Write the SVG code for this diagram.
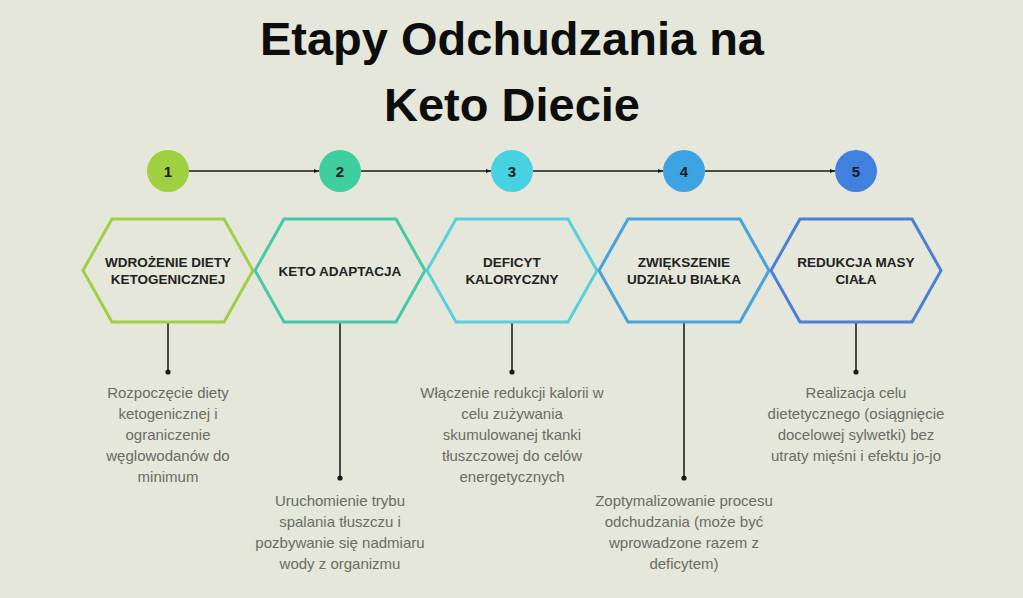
<svg xmlns="http://www.w3.org/2000/svg" width="1023" height="598" viewBox="0 0 1023 598">
<defs>
<marker id="arr" viewBox="0 0 10 10" refX="10" refY="5" markerWidth="5" markerHeight="5" orient="auto" markerUnits="userSpaceOnUse">
<path d="M0,1 L10,5 L0,9 Z" fill="#1a1a1a"/>
</marker>
<style>
.title{font-family:"Liberation Sans",Arial,sans-serif;font-weight:bold;font-size:47px;fill:#0d0d0d;text-anchor:middle}
.num{font-family:"Liberation Sans",Arial,sans-serif;font-weight:bold;font-size:15px;fill:#1a1a1a;text-anchor:middle}
.hex{fill:none;stroke-width:3;stroke-linejoin:miter}
.lbl{font-family:"Liberation Sans",Arial,sans-serif;font-weight:bold;font-size:13.5px;fill:#222;text-anchor:middle}
.desc{font-family:"Liberation Sans",Arial,sans-serif;font-size:15px;fill:#6a6d66;text-anchor:middle}
.conn{stroke:#1a1a1a;stroke-width:1.3;fill:none}
.vline{stroke:#222;stroke-width:1.6;fill:none}
.dot{fill:#1a1a1a}
</style>
</defs>
<rect width="1023" height="598" fill="#e4e7d9"/>
<g id="title">
<text class="title" x="512" y="55">Etapy Odchudzania na</text>
<text class="title" x="512" y="121">Keto Diecie</text>
</g>
<g id="connectors">
<line class="conn" x1="189" y1="171" x2="319" y2="171" marker-end="url(#arr)"/>
<line class="conn" x1="361" y1="171" x2="491" y2="171" marker-end="url(#arr)"/>
<line class="conn" x1="533" y1="171" x2="663" y2="171" marker-end="url(#arr)"/>
<line class="conn" x1="705" y1="171" x2="835" y2="171" marker-end="url(#arr)"/>
<line class="vline" x1="168" y1="322" x2="168" y2="372"/>
<circle class="dot" cx="168" cy="372" r="2.6"/>
<line class="vline" x1="340" y1="322" x2="340" y2="478"/>
<circle class="dot" cx="340" cy="478" r="2.6"/>
<line class="vline" x1="512" y1="322" x2="512" y2="372"/>
<circle class="dot" cx="512" cy="372" r="2.6"/>
<line class="vline" x1="684" y1="322" x2="684" y2="478"/>
<circle class="dot" cx="684" cy="478" r="2.6"/>
<line class="vline" x1="856" y1="322" x2="856" y2="372"/>
<circle class="dot" cx="856" cy="372" r="2.6"/>
</g>
<g id="step1">
<circle cx="168" cy="171" r="21" fill="#9ed03f"/>
<text class="num" x="168" y="176.5">1</text>
<polygon class="hex" stroke="#a3cf48" points="83,270.5 112,219 224,219 253,270.5 224,322 112,322"/>
<text class="lbl" x="168" y="267">WDROŻENIE DIETY</text>
<text class="lbl" x="168" y="284">KETOGENICZNEJ</text>
<text class="desc" x="168" y="398">Rozpoczęcie diety</text>
<text class="desc" x="168" y="419">ketogenicznej i</text>
<text class="desc" x="168" y="440">ograniczenie</text>
<text class="desc" x="168" y="461">węglowodanów do</text>
<text class="desc" x="168" y="482">minimum</text>
</g>
<g id="step2">
<circle cx="340" cy="171" r="21" fill="#3fcf9f"/>
<text class="num" x="340" y="176.5">2</text>
<polygon class="hex" stroke="#45c9a6" points="255,270.5 284,219 396,219 425,270.5 396,322 284,322"/>
<text class="lbl" x="340" y="276">KETO ADAPTACJA</text>
<text class="desc" x="340" y="506">Uruchomienie trybu</text>
<text class="desc" x="340" y="527">spalania tłuszczu i</text>
<text class="desc" x="340" y="548">pozbywanie się nadmiaru</text>
<text class="desc" x="340" y="569">wody z organizmu</text>
</g>
<g id="step3">
<circle cx="512" cy="171" r="21" fill="#47d2e2"/>
<text class="num" x="512" y="176.5">3</text>
<polygon class="hex" stroke="#58d0de" points="427,270.5 456,219 568,219 597,270.5 568,322 456,322"/>
<text class="lbl" x="512" y="267">DEFICYT</text>
<text class="lbl" x="512" y="284">KALORYCZNY</text>
<text class="desc" x="512" y="398">Włączenie redukcji kalorii w</text>
<text class="desc" x="512" y="419">celu zużywania</text>
<text class="desc" x="512" y="440">skumulowanej tkanki</text>
<text class="desc" x="512" y="461">tłuszczowej do celów</text>
<text class="desc" x="512" y="482">energetycznych</text>
</g>
<g id="step4">
<circle cx="684" cy="171" r="21" fill="#3ea3e2"/>
<text class="num" x="684" y="176.5">4</text>
<polygon class="hex" stroke="#47a2dd" points="599,270.5 628,219 740,219 769,270.5 740,322 628,322"/>
<text class="lbl" x="684" y="267">ZWIĘKSZENIE</text>
<text class="lbl" x="684" y="284">UDZIAŁU BIAŁKA</text>
<text class="desc" x="684" y="506">Zoptymalizowanie procesu</text>
<text class="desc" x="684" y="527">odchudzania (może być</text>
<text class="desc" x="684" y="548">wprowadzone razem z</text>
<text class="desc" x="684" y="569">deficytem)</text>
</g>
<g id="step5">
<circle cx="856" cy="171" r="21" fill="#4080df"/>
<text class="num" x="856" y="176.5">5</text>
<polygon class="hex" stroke="#4c7fd5" points="771,270.5 800,219 912,219 941,270.5 912,322 800,322"/>
<text class="lbl" x="856" y="267">REDUKCJA MASY</text>
<text class="lbl" x="856" y="284">CIAŁA</text>
<text class="desc" x="856" y="398">Realizacja celu</text>
<text class="desc" x="856" y="419">dietetycznego (osiągnięcie</text>
<text class="desc" x="856" y="440">docelowej sylwetki) bez</text>
<text class="desc" x="856" y="461">utraty mięśni i efektu jo-jo</text>
</g>
</svg>
